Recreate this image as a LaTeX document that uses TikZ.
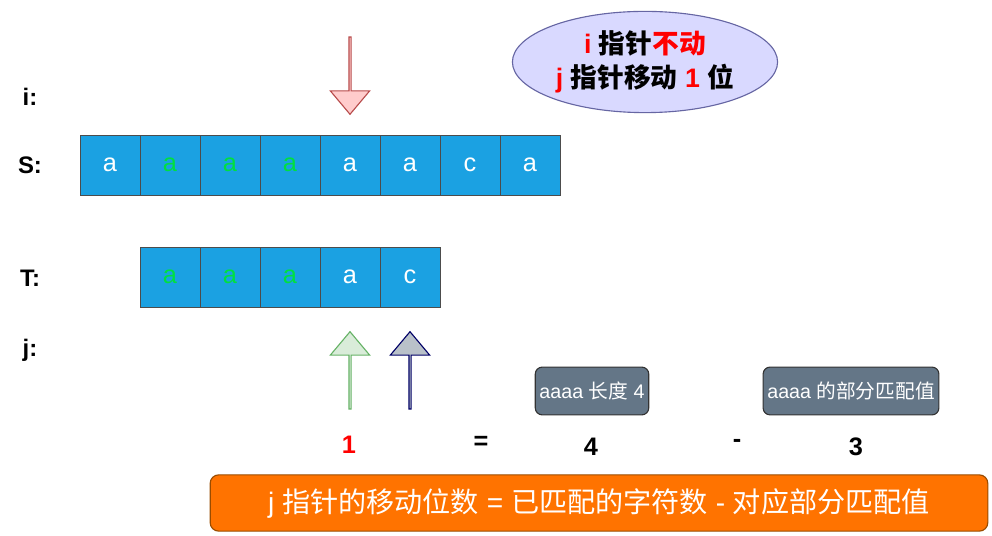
\documentclass[tikz,border=0pt]{standalone}
\usepackage{fontspec}
\setmainfont{Liberation Sans}
\newfontfamily\cjk{Noto Sans CJK SC}
\usetikzlibrary{shapes.arrows,shapes.geometric}
\definecolor{cellblue}{HTML}{1BA1E2}
\definecolor{matchgreen}{HTML}{00E040}
\definecolor{tagslate}{HTML}{647687}
\tikzstyle{cell}=[rectangle,draw=black!70,fill=cellblue,text=white,minimum size=42.5pt,inner sep=0pt,font=\fontsize{18}{20}\selectfont]
\tikzstyle{rowlabel}=[font=\bfseries\fontsize{17}{20}\selectfont]
\tikzstyle{bigarrow}=[single arrow,minimum width=28pt,single arrow head extend=7pt,single arrow tip angle=80,minimum height=55pt,inner sep=0pt,thick]
\tikzstyle{tag}=[rectangle,rounded corners=5pt,draw=black!80,fill=tagslate,text=white,thick,font=\fontsize{14}{16}\selectfont,minimum height=34pt,inner sep=3pt]
\tikzstyle{num}=[font=\bfseries\fontsize{18}{20}\selectfont]
\begin{document}
\begin{tikzpicture}[x=0.025cm,y=-0.025cm]
  \useasboundingbox (0,0) rectangle (992,536);

  \node[rowlabel] (i label) at (30,97) {i:};
  \node[rowlabel] (S label) at (30,165) {S:};
  \node[rowlabel] (T label) at (30,278) {T:};
  \node[rowlabel] (j label) at (30,350) {j:};

  \foreach \pos/\ch/\col in {1/a/white,2/a/matchgreen,3/a/matchgreen,4/a/matchgreen,5/a/white,6/a/white,7/c/white,8/a/white} {
    \node[cell,text=\col] (S\pos) at (50+\pos*60,165) {\ch};
  }
  \foreach \pos/\ch/\col in {1/a/matchgreen,2/a/matchgreen,3/a/matchgreen,4/a/white,5/c/white} {
    \node[cell,text=\col] (T\pos) at (110+\pos*60,277) {\ch};
  }

  \node[bigarrow,rotate=-90,draw=red!60!black!70,fill=red!20] (i arrow) at (350,75) {};
  \node[bigarrow,rotate=90,draw=green!50!black!60,fill=green!50!black!15] (j old) at (350,371) {};
  \node[bigarrow,rotate=90,draw=blue!40!black,fill=tagslate!45] (j new) at (410,371) {};

  \node[ellipse,draw=blue!40!black!60,fill=blue!15,thick,minimum width=182pt,minimum height=72pt,align=center,
    font=\bfseries\fontsize{19}{24}\selectfont] (note) at (645,62)
    {\textcolor{red}{i} {\cjk\bfseries 指针\textcolor{red}{不动}}\\
     \textcolor{red}{j} {\cjk\bfseries 指针移动} \textcolor{red}{1} {\cjk\bfseries 位}};

  \node[tag] (length tag) at (592,391) {aaaa {\cjk 长度} 4};
  \node[tag] (match tag) at (851,391) {aaaa {\cjk 的部分匹配值}};

  \node[num,text=red] (shift) at (349,445) {1};
  \node[num] (equals) at (481,443) {=};
  \node[num] (matched) at (591,447) {4};
  \node[num] (minus) at (737,443) {-};
  \node[num] (partial) at (856,447) {3};

  \node[rectangle,rounded corners=6pt,draw=orange!60!black,fill=orange!90!red,text=white,thick,
    minimum width=553pt,minimum height=40pt,font=\fontsize{20}{22}\selectfont] (rule) at (599,503)
    {j {\cjk 指针的移动位数} = {\cjk 已匹配的字符数} - {\cjk 对应部分匹配值}};
\end{tikzpicture}
\end{document}
